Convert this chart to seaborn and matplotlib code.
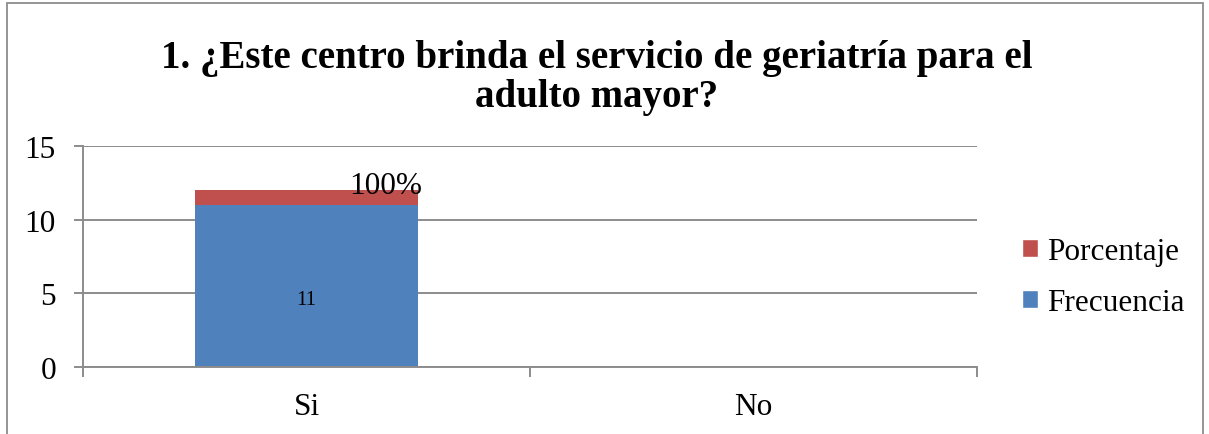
import matplotlib
matplotlib.use("Agg")
import matplotlib.pyplot as plt
import seaborn as sns
import pandas as pd
from matplotlib.patches import Rectangle, Patch

categories = ["Si", "No"]
frecuencia = [11, 0]
porcentaje = [1, 0]
pct_labels = ["100%", ""]
freq_labels = ["11", ""]
title = "1. ¿Este centro brinda el servicio de geriatría para el\nadulto mayor?"

sns.set_theme(style="white")
plt.rcParams['font.family'] = ['Liberation Serif', 'DejaVu Serif']
plt.rcParams['text.color'] = 'black'
plt.rcParams['xtick.color'] = 'black'
plt.rcParams['ytick.color'] = 'black'
plt.rcParams['axes.labelcolor'] = 'black'

df = pd.DataFrame({"cat": categories, "freq": frecuencia,
                   "total": [f + p for f, p in zip(frecuencia, porcentaje)]})

fig = plt.figure(figsize=(12.09, 4.35), dpi=100)
ax = fig.add_axes([83/1209, 1-368/435, (977-83)/1209, (368-147)/435])

blue = "#4F81BD"
red = "#C0504D"
sns.barplot(data=df, x="cat", y="total", color=red, width=0.5, ax=ax,
            saturation=1, edgecolor="none", linewidth=0)
sns.barplot(data=df, x="cat", y="freq", color=blue, width=0.5, ax=ax,
            saturation=1, edgecolor="none", linewidth=0)

fs = 22.5
grey = "#8c8c8c"
ax.set_xlim(-0.5, 1.5)
ax.set_ylim(0, 15)
ax.set_yticks([0, 5, 10, 15])
ax.yaxis.grid(True, color=grey, linewidth=1.4)
ax.set_axisbelow(True)
for s in ["top", "right"]:
    ax.spines[s].set_visible(False)
for s in ["left", "bottom"]:
    ax.spines[s].set_color(grey)
    ax.spines[s].set_linewidth(1.4)
ax.set_xlabel("")
ax.set_ylabel("")
ax.tick_params(axis="y", length=6.5, color=grey, labelcolor="black", width=1.4,
               labelsize=fs, pad=13, left=True)
ax.tick_params(axis="x", length=0, labelsize=fs, labelcolor="black", pad=18)
ax.set_xticks([0, 1], categories)
ax.set_yticklabels(["0", "5", "10", "15"])
ax.set_xticks([-0.5, 0.5, 1.5], minor=True)
ax.tick_params(axis="x", which="minor", length=7, color=grey, width=1.4, bottom=True)

for i in range(len(categories)):
    if pct_labels[i]:
        ax.text(i + 0.177, frecuencia[i] + porcentaje[i] + 0.35, pct_labels[i],
                ha="center", va="center", fontsize=fs, color="black")
    if freq_labels[i]:
        ax.text(i, 4.6, freq_labels[i], ha="center", va="center", fontsize=15, color="black")

fig.text(597/1209, 1-78/435, title, ha="center", va="center", fontsize=28,
         fontweight="bold", linespacing=1.1, color="black")

handles = [Patch(facecolor=red, label="Porcentaje"), Patch(facecolor=blue, label="Frecuencia")]
fig.legend(handles=handles, loc="center left", bbox_to_anchor=(1000/1209, 1-278/435),
           frameon=False, fontsize=fs, handlelength=0.5, handleheight=0.5,
           handletextpad=0.3, labelspacing=0.7, borderpad=0.2, labelcolor="black")

fig.patches.append(Rectangle((7/1209, -0.01), 1196/1209, 1.0, transform=fig.transFigure,
                             fill=False, edgecolor=grey, linewidth=1.3))

fig.savefig("out.png", dpi=100)
